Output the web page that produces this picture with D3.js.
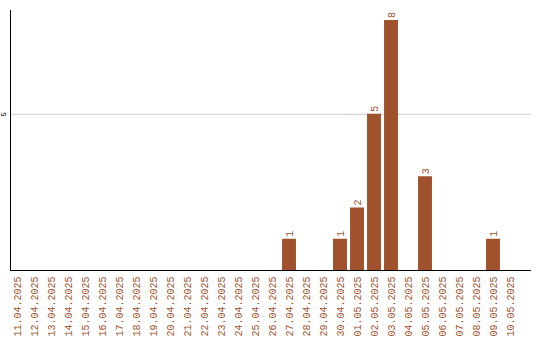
<!DOCTYPE html>
<html>
<head>
<meta charset="utf-8">
<script src="https://cdn.jsdelivr.net/npm/d3@7"></script>
<style>
  body { margin: 0; background: #fff; }
  svg { display: block; }
</style>
</head>
<body>
<svg id="chart" width="540" height="340"></svg>
<script>
// Dates shown on the x axis.
let bar_dates = ['11.04.2025', '12.04.2025', '13.04.2025', '14.04.2025', '15.04.2025',
    '16.04.2025', '17.04.2025', '18.04.2025', '19.04.2025', '20.04.2025',
    '21.04.2025', '22.04.2025', '23.04.2025', '24.04.2025', '25.04.2025',
    '26.04.2025', '27.04.2025', '28.04.2025', '29.04.2025', '30.04.2025',
    '01.05.2025', '02.05.2025', '03.05.2025', '04.05.2025', '05.05.2025',
    '06.05.2025', '07.05.2025', '08.05.2025', '09.05.2025', '10.05.2025'];

// Count per day.
let bar_counts = [0, 0, 0, 0, 0, 0, 0, 0, 0, 0,
    0, 0, 0, 0, 0, 0, 1, 0, 0, 1,
    2, 5, 8, 0, 3, 0, 0, 0, 1, 0];

// Y tick values.
let bar_yTicks = [5];

let bar_color = '#a0522d';
let bar_font = "'Liberation Mono', 'DejaVu Sans Mono', monospace";

let svg = d3.select('#chart');

let x = d3.scaleBand()
    .domain(bar_dates)
    .range([8.5, 518.5])
    .paddingInner(0.18)
    .paddingOuter(0.09);

let y = d3.scaleLinear()
    .domain([0, 8.32])
    .range([270, 10]);

// grid line
svg.append('g')
    .selectAll('line')
    .data(bar_yTicks)
    .enter().append('line')
    .attr('x1', 10)
    .attr('x2', 531)
    .attr('y1', d => y(d) + 0.5)
    .attr('y2', d => y(d) + 0.5)
    .attr('stroke', '#cccccc')
    .attr('stroke-width', 1);

// bars
svg.append('g')
    .selectAll('rect')
    .data(bar_counts.map((v, i) => ({date: bar_dates[i], value: v})).filter(d => d.value > 0))
    .enter().append('rect')
    .attr('x', d => x(d.date))
    .attr('width', x.bandwidth())
    .attr('y', d => y(d.value))
    .attr('height', d => y(0) - y(d.value))
    .attr('fill', bar_color);

// value labels
svg.append('g')
    .selectAll('text')
    .data(bar_counts.map((v, i) => ({date: bar_dates[i], value: v})).filter(d => d.value > 0))
    .enter().append('text')
    .attr('transform', d => 'translate(' + (x(d.date) + x.bandwidth() / 2) + ',' + (y(d.value) - 2) + ') rotate(-90)')
    .attr('dy', '0.35em')
    .style('font-family', bar_font)
    .style('font-size', '10px')
    .attr('fill', bar_color)
    .text(d => d.value);

// y axis
let yAxis = svg.append('g')
    .attr('transform', 'translate(10.5,0)')
    .call(d3.axisLeft(y).tickValues(bar_yTicks).tickSize(0).tickPadding(0));
yAxis.select('.domain').attr('d', 'M0,10V270').attr('stroke', '#000');
yAxis.selectAll('.tick text')
    .attr('transform', 'rotate(-90)')
    .attr('x', 0)
    .attr('y', -5)
    .attr('dy', 0)
    .attr('text-anchor', 'middle')
    .style('font-family', bar_font)
    .style('font-size', '8px')
    .attr('fill', '#000');

// x axis
let xAxis = svg.append('g')
    .attr('transform', 'translate(0,270.5)')
    .call(d3.axisBottom(x).tickSize(0).tickPadding(0));
xAxis.select('.domain').attr('d', 'M10,0H531').attr('stroke', '#000');
xAxis.selectAll('.tick text')
    .attr('transform', 'translate(0,6) rotate(-90)')
    .attr('x', 0)
    .attr('y', 0)
    .attr('dy', '0.35em')
    .attr('text-anchor', 'end')
    .style('font-family', bar_font)
    .style('font-size', '10px')
    .attr('fill', bar_color);
</script>
</body>
</html>
